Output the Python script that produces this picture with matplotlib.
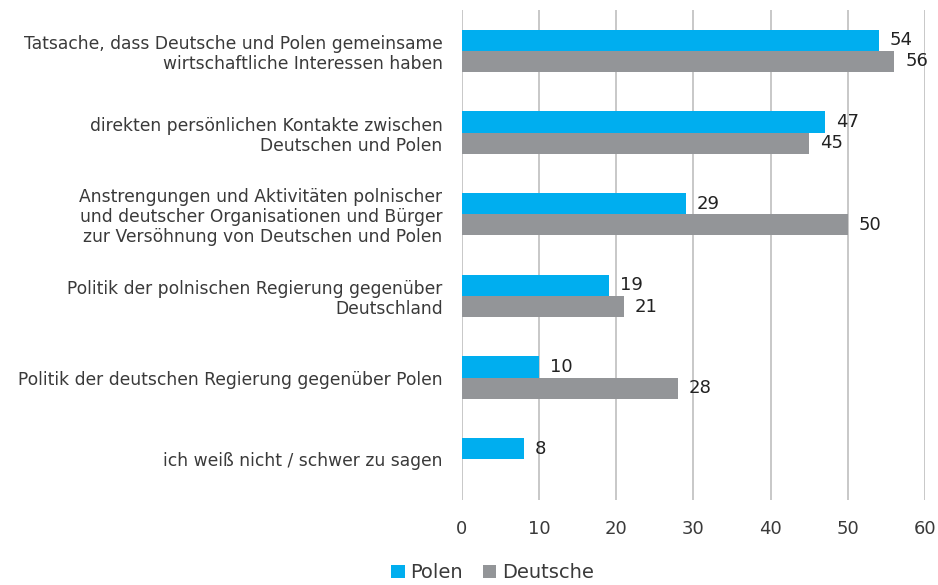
import numpy as np
import matplotlib.pyplot as plt

categories = [
    "Tatsache, dass Deutsche und Polen gemeinsame\nwirtschaftliche Interessen haben",
    "direkten persönlichen Kontakte zwischen\nDeutschen und Polen",
    "Anstrengungen und Aktivitäten polnischer\nund deutscher Organisationen und Bürger\nzur Versöhnung von Deutschen und Polen",
    "Politik der polnischen Regierung gegenüber\nDeutschland",
    "Politik der deutschen Regierung gegenüber Polen",
    "ich weiß nicht / schwer zu sagen",
]
polen = [54, 47, 29, 19, 10, 8]
deutsche = [56, 45, 50, 21, 28, None]

blue = "#00AEEF"
grey = "#939598"
txt = "#3a3a3a"

fig = plt.figure(figsize=(9.38, 5.85), dpi=100)
ax = fig.add_axes([0.4925, 0.145, 0.4935, 0.838])

y = np.arange(len(categories))
h = 0.26

bp = ax.barh(y - h / 2, polen, height=h, color=blue, label="Polen")
d_vals = [v if v is not None else 0 for v in deutsche]
bd = ax.barh(y + h / 2, d_vals, height=h, color=grey, label="Deutsche")

for i, v in enumerate(polen):
    ax.annotate(str(v), (v, y[i] - h / 2), xytext=(8, 0), textcoords="offset points",
                va="center", ha="left", fontsize=13, color="#222222", fontweight="medium")
for i, v in enumerate(deutsche):
    if v is None:
        continue
    ax.annotate(str(v), (v, y[i] + h / 2), xytext=(8, 0), textcoords="offset points",
                va="center", ha="left", fontsize=13, color="#222222", fontweight="medium")

ax.set_xlim(0, 60)
ax.set_ylim(len(categories) - 0.5, -0.5)
ax.set_xticks(range(0, 61, 10))
ax.set_yticks(y)
ax.set_yticklabels(categories, fontsize=12.3, color=txt, linespacing=1.15)
ax.tick_params(axis="x", labelsize=13, colors=txt, length=0, pad=14)
ax.tick_params(axis="y", length=0, pad=14)
ax.grid(axis="x", color="#bfbfbf", linewidth=1.2)
ax.set_axisbelow(True)
for s in ax.spines.values():
    s.set_visible(False)

fig.legend(handles=[bp, bd], labels=["Polen", "Deutsche"], loc="lower center",
           bbox_to_anchor=(0.525, -0.025), ncol=2, frameon=False, fontsize=14,
           handlelength=0.7, handleheight=0.7, handletextpad=0.3, columnspacing=1.0,
           labelcolor=txt)

fig.savefig("out.png", dpi=100)
